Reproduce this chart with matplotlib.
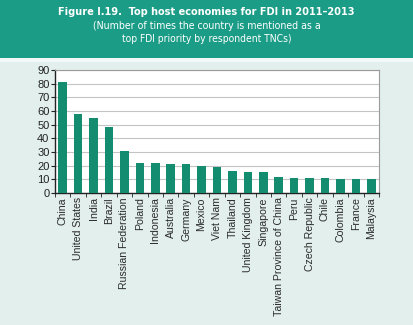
import matplotlib.pyplot as plt
from matplotlib.patches import Rectangle

countries = [
    "China", "United States", "India", "Brazil", "Russian Federation",
    "Poland", "Indonesia", "Australia", "Germany", "Mexico", "Viet Nam",
    "Thailand", "United Kingdom", "Singapore", "Taiwan Province of China",
    "Peru", "Czech Republic", "Chile", "Colombia", "France", "Malaysia",
]
mentions = [81, 58, 55, 48, 31, 22, 22, 21, 21, 20, 19,
            16, 15, 15, 12, 11, 11, 11, 10, 10, 10]
y_ticks = list(range(0, 91, 10))

W, H = 413, 325
fig = plt.figure(figsize=(W / 100, H / 100), dpi=100)
fig.patch.set_facecolor("#e2efec")

# header band
fig.patches.append(Rectangle((0, 1 - 58 / H), 1, 58 / H, transform=fig.transFigure,
                             facecolor="#1b9c86", edgecolor="none", zorder=0))
fig.patches.append(Rectangle((0, 1 - 62 / H), 1, 4 / H, transform=fig.transFigure,
                             facecolor="#f2f8f7", edgecolor="none", zorder=0))

fig.text(0.5, 1 - 12 / H, "Figure I.19.  Top host economies for FDI in 2011\u20132013",
         ha="center", va="center", color="white", fontsize=7.8, fontweight="bold",
         family="DejaVu Sans", fontstretch="condensed")
fig.text(0.5, 1 - 26 / H, "(Number of times the country is mentioned as a",
         ha="center", va="center", color="white", fontsize=7.6,
         family="DejaVu Sans", fontstretch="condensed")
fig.text(0.5, 1 - 39 / H, "top FDI priority by respondent TNCs)",
         ha="center", va="center", color="white", fontsize=7.4,
         family="DejaVu Sans", fontstretch="condensed")

left, right, top, bottom = 55, 379, 70, 193
ax = fig.add_axes([left / W, 1 - bottom / H, (right - left) / W, (bottom - top) / H])
ax.set_facecolor("white")

x = range(len(countries))
ax.bar(x, mentions, width=0.55, color="#148c70", zorder=3)

ax.set_ylim(0, 90)
ax.set_xlim(-0.5, len(countries) - 0.5)
ax.set_yticks(y_ticks)
ax.yaxis.grid(True, color="#c4c4c4", linewidth=0.8, zorder=0)

ax.set_xticks(x)
ax.set_xticklabels(countries, rotation=90, fontsize=7.6, color="#2a2a2a",
                   family="Liberation Sans")
ax.tick_params(axis="x", length=0, pad=3)
ax.set_xticks([i + 0.5 for i in range(-1, len(countries))], minor=True)
ax.tick_params(axis="x", which="minor", length=3, direction="out", color="#222222")
ax.tick_params(axis="y", labelsize=8, length=3, pad=1, colors="#222222")
for lab in ax.get_yticklabels():
    lab.set_family("Liberation Sans")

for side in ["left", "bottom"]:
    ax.spines[side].set_color("#222222")
    ax.spines[side].set_linewidth(1.0)
for side in ["top", "right"]:
    ax.spines[side].set_color("#9a9a9a")
    ax.spines[side].set_linewidth(0.8)

fig.savefig("out.png", dpi=100, facecolor=fig.get_facecolor())
